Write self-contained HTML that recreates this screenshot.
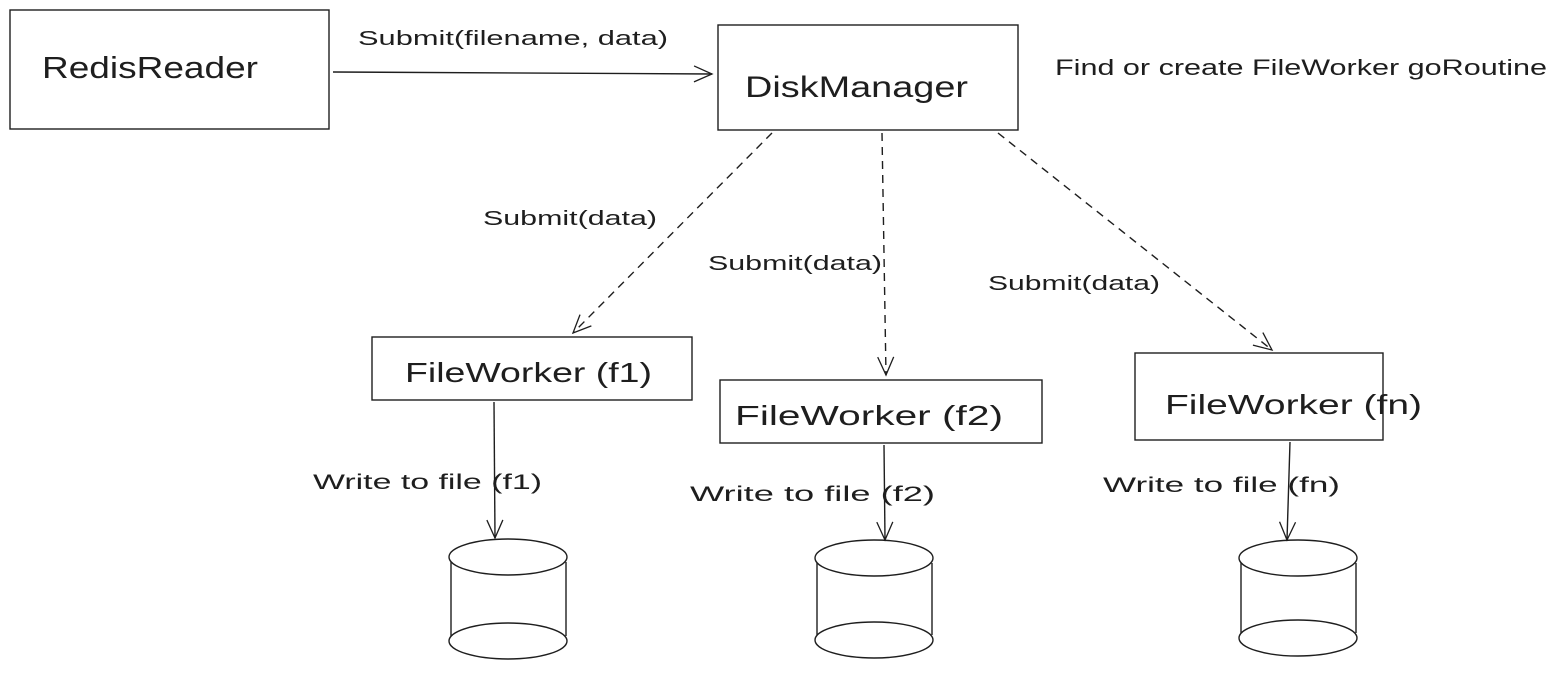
<!DOCTYPE html>
<html><head><style>
body{margin:0;background:#fff;}
svg text{font-family:"Liberation Sans",sans-serif;fill:#1e1e1e;}
</style></head><body>
<svg width="1555" height="669" viewBox="0 0 1555 669" xmlns="http://www.w3.org/2000/svg">
<defs>
<marker id="ah" markerWidth="24" markerHeight="24" refX="20" refY="10" orient="auto" markerUnits="userSpaceOnUse">
<path d="M2,2 L20,10 L2,18" fill="none" stroke="#1e1e1e" stroke-width="1.3"/>
</marker>
</defs>
<g fill="none" stroke="#1e1e1e" stroke-width="1.4">
<rect x="10" y="10" width="319" height="119"/>
<rect x="718" y="25" width="300" height="105"/>
<rect x="372" y="337" width="320" height="63"/>
<rect x="720" y="380" width="322" height="63"/>
<rect x="1135" y="353" width="248" height="87"/>
<line x1="333" y1="72" x2="712" y2="74" marker-end="url(#ah)"/>
<g stroke-dasharray="8,6">
<line x1="772" y1="133" x2="573" y2="333" marker-end="url(#ah)"/>
<line x1="882" y1="133" x2="886" y2="375" marker-end="url(#ah)"/>
<line x1="998" y1="133" x2="1272" y2="350" marker-end="url(#ah)"/>
</g>
<line x1="494" y1="402" x2="495" y2="538" marker-end="url(#ah)"/>
<line x1="884" y1="445" x2="885" y2="540" marker-end="url(#ah)"/>
<line x1="1290" y1="442" x2="1287" y2="540" marker-end="url(#ah)"/>
<ellipse cx="508" cy="557" rx="59" ry="18"/>
<ellipse cx="508" cy="641" rx="59" ry="18"/>
<line x1="451" y1="562" x2="451" y2="636"/><line x1="566" y1="562" x2="566" y2="636"/>
<ellipse cx="874" cy="558" rx="59" ry="18"/>
<ellipse cx="874" cy="640" rx="59" ry="18"/>
<line x1="817" y1="563" x2="817" y2="635"/><line x1="932" y1="563" x2="932" y2="635"/>
<ellipse cx="1298" cy="558" rx="59" ry="18"/>
<ellipse cx="1298" cy="638" rx="59" ry="18"/>
<line x1="1241" y1="563" x2="1241" y2="633"/><line x1="1356" y1="563" x2="1356" y2="633"/>
</g>
<g lengthAdjust="spacingAndGlyphs">
<text x="42" y="78" font-size="31" textLength="216" lengthAdjust="spacingAndGlyphs">RedisReader</text>
<text x="745" y="97" font-size="30" textLength="223" lengthAdjust="spacingAndGlyphs">DiskManager</text>
<text x="358" y="45" font-size="20" textLength="310" lengthAdjust="spacingAndGlyphs">Submit(filename, data)</text>
<text x="1055" y="75" font-size="22" textLength="492" lengthAdjust="spacingAndGlyphs">Find or create FileWorker goRoutine</text>
<text x="483" y="225" font-size="20" textLength="174" lengthAdjust="spacingAndGlyphs">Submit(data)</text>
<text x="708" y="270" font-size="20" textLength="174" lengthAdjust="spacingAndGlyphs">Submit(data)</text>
<text x="988" y="290" font-size="20" textLength="172" lengthAdjust="spacingAndGlyphs">Submit(data)</text>
<text x="405" y="382" font-size="28" textLength="247" lengthAdjust="spacingAndGlyphs">FileWorker (f1)</text>
<text x="735" y="425" font-size="28" textLength="268" lengthAdjust="spacingAndGlyphs">FileWorker (f2)</text>
<text x="1165" y="414" font-size="28" textLength="257" lengthAdjust="spacingAndGlyphs">FileWorker (fn)</text>
<text x="313" y="489" font-size="21" textLength="229" lengthAdjust="spacingAndGlyphs">Write to file (f1)</text>
<text x="690" y="501" font-size="21" textLength="245" lengthAdjust="spacingAndGlyphs">Write to file (f2)</text>
<text x="1103" y="492" font-size="21" textLength="237" lengthAdjust="spacingAndGlyphs">Write to file (fn)</text>
</g>
</svg>
</body></html>
